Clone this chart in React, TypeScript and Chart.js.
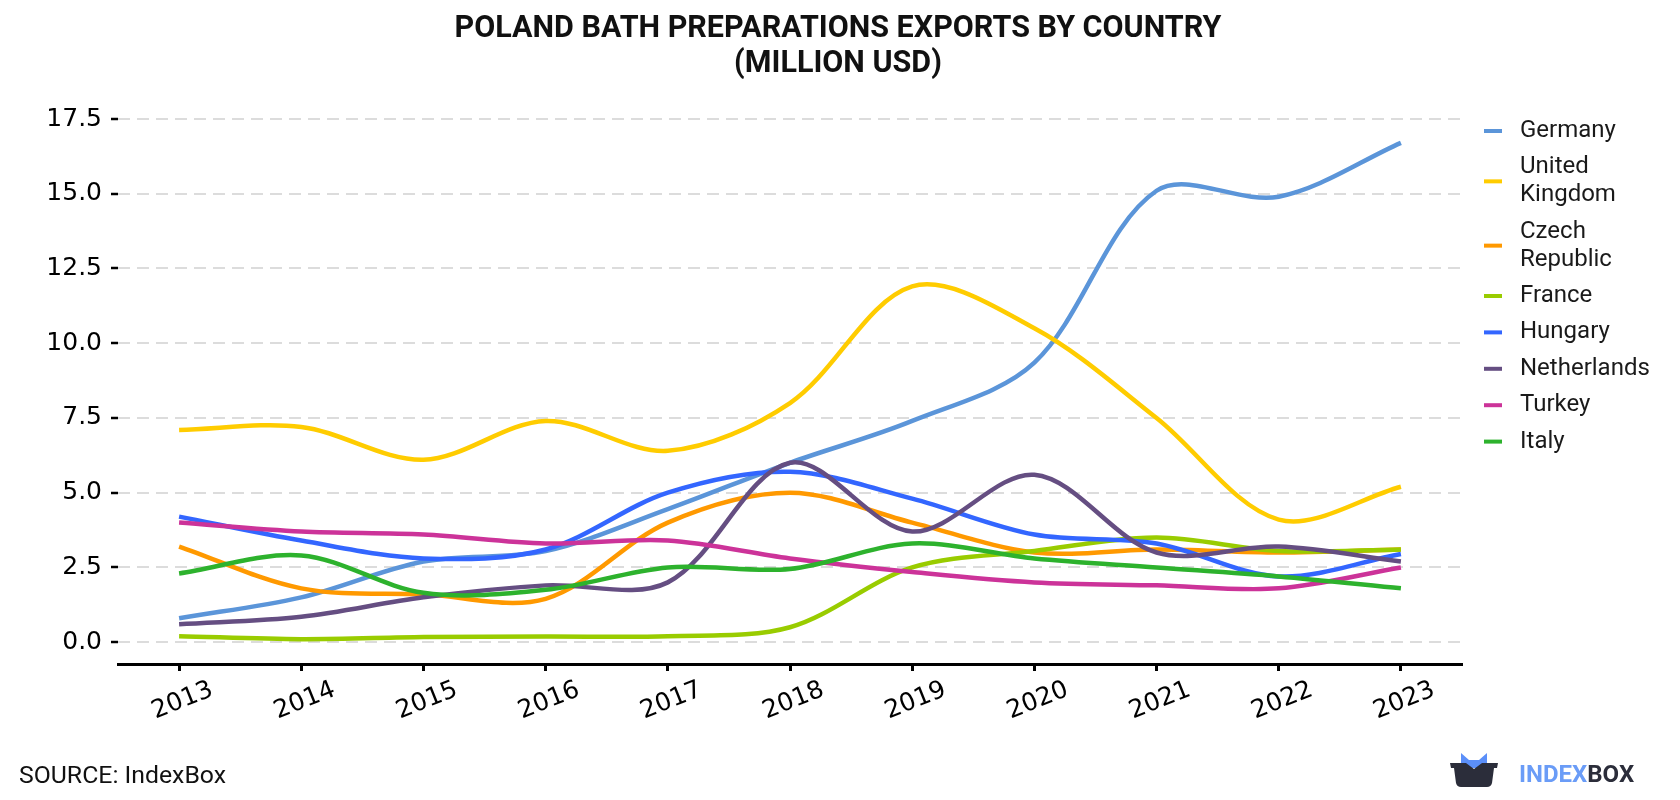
import React, { useEffect, useRef } from "react";
import { Chart, registerables } from "chart.js";

Chart.register(...registerables);

const years = ["2013", "2014", "2015", "2016", "2017", "2018", "2019", "2020", "2021", "2022", "2023"];

const germany = [0.8, 1.5, 2.7, 3.05, 4.45, 6.0, 7.4, 9.35, 15.1, 14.9, 16.7];
const unitedKingdom = [7.1, 7.2, 6.1, 7.4, 6.4, 8.0, 11.9, 10.5, 7.5, 4.1, 5.2];
const czechRepublic = [3.2, 1.8, 1.6, 1.45, 4.0, 5.0, 4.0, 3.0, 3.1, 3.0, 3.1];
const france = [0.2, 0.1, 0.17, 0.19, 0.2, 0.5, 2.5, 3.05, 3.5, 3.05, 3.1];
const hungary = [4.2, 3.4, 2.8, 3.1, 5.0, 5.7, 4.8, 3.6, 3.3, 2.2, 2.95];
const netherlands = [0.6, 0.85, 1.5, 1.9, 2.0, 6.0, 3.7, 5.6, 3.0, 3.2, 2.7];
const turkey = [4.0, 3.7, 3.6, 3.3, 3.4, 2.8, 2.35, 2.0, 1.9, 1.8, 2.5];
const italy = [2.3, 2.9, 1.65, 1.75, 2.5, 2.45, 3.3, 2.8, 2.5, 2.2, 1.8];

const seriesNames = ["Germany", "United Kingdom", "Czech Republic", "France", "Hungary", "Netherlands", "Turkey", "Italy"];
const seriesValues = [germany, unitedKingdom, czechRepublic, france, hungary, netherlands, turkey, italy];
const seriesColors = ["#5b95d9", "#ffcc00", "#ff9900", "#99cc00", "#3366ff", "#654e82", "#cc3399", "#2db22d"];

const yTickValues = [0, 2.5, 5, 7.5, 10, 12.5, 15, 17.5];
const titleLines = ["POLAND BATH PREPARATIONS EXPORTS BY COUNTRY", "(MILLION USD)"];
const sourceText = "SOURCE: IndexBox";
const logoParts = ["INDEX", "BOX"];

function wrapLabel(s: string): string[] {
  return s.length > 12 ? s.split(" ") : [s];
}

const decorPlugin = {
  id: "decor",
  afterDraw(chart: any) {
    const ctx = chart.ctx as CanvasRenderingContext2D;
    ctx.save();
    // Title
    ctx.fillStyle = "#111";
    ctx.textAlign = "center";
    ctx.textBaseline = "middle";
    ctx.font = "bold 30.5px Roboto";
    ctx.fillText(titleLines[0], 838, 29);
    ctx.fillText(titleLines[1], 838, 64);

    // Legend
    const lh = 27.9;
    const gap = 8.5;
    let top = 131 - lh / 2;
    ctx.font = "24px Roboto";
    ctx.textAlign = "left";
    chart.data.datasets.forEach((ds: any) => {
      const lines = wrapLabel(ds.label);
      const h = lines.length * lh;
      const cy = top + h / 2;
      ctx.strokeStyle = ds.borderColor;
      ctx.lineWidth = 4;
      ctx.beginPath();
      ctx.moveTo(1484, cy);
      ctx.lineTo(1502, cy);
      ctx.stroke();
      ctx.fillStyle = "#1a1a1a";
      lines.forEach((ln, k) => {
        ctx.fillText(ln, 1520, top + lh * k + lh / 2);
      });
      top += h + gap;
    });

    // Source
    ctx.fillStyle = "#111";
    ctx.font = "24.8px Roboto";
    ctx.textAlign = "left";
    ctx.fillText(sourceText, 19, 777);

    // Logo icon
    ctx.fillStyle = "#5b8ff9";
    ctx.beginPath();
    ctx.moveTo(1461, 768);
    ctx.lineTo(1461, 753);
    ctx.lineTo(1469, 760);
    ctx.lineTo(1479, 760);
    ctx.lineTo(1487, 753);
    ctx.lineTo(1487, 768);
    ctx.closePath();
    ctx.fill();
    ctx.fillStyle = "#2b2d3a";
    ctx.beginPath();
    ctx.moveTo(1450, 763);
    ctx.lineTo(1466, 763);
    ctx.lineTo(1474, 769);
    ctx.lineTo(1482, 763);
    ctx.lineTo(1498, 763);
    ctx.lineTo(1497, 768);
    ctx.lineTo(1494, 768);
    ctx.lineTo(1492, 783);
    ctx.quadraticCurveTo(1491, 787, 1487, 787);
    ctx.lineTo(1461, 787);
    ctx.quadraticCurveTo(1457, 787, 1456, 783);
    ctx.lineTo(1454, 768);
    ctx.lineTo(1451, 768);
    ctx.closePath();
    ctx.fill();

    ctx.font = "bold 24px Roboto";
    ctx.textAlign = "left";
    ctx.fillStyle = "#6a9cf7";
    ctx.fillText(logoParts[0], 1519, 776);
    const w = ctx.measureText(logoParts[0]).width;
    ctx.fillStyle = "#2b2d3a";
    ctx.fillText(logoParts[1], 1519 + w, 776);
    ctx.restore();
  },
};

export default function App() {
  const ref = useRef<HTMLCanvasElement | null>(null);
  useEffect(() => {
    document.body.style.margin = "0";
    const canvas = ref.current;
    if (!canvas) return;
    const n = seriesNames.length;
    const chart = new Chart(canvas, {
      type: "line",
      data: {
        labels: years,
        datasets: seriesNames.map((name, i) => ({
          label: name,
          data: seriesValues[i],
          borderColor: seriesColors[i],
          backgroundColor: seriesColors[i],
          borderWidth: 4.5,
          pointRadius: 0,
          tension: 0.33,
          fill: false,
          order: n - i,
        })),
      },
      options: {
        responsive: false,
        animation: false,
        devicePixelRatio: 1,
        events: [],
        layout: { padding: { left: 0, right: 218, top: 119, bottom: 0 } },
        plugins: {
          legend: { display: false },
          title: { display: false },
          tooltip: { enabled: false },
        },
        scales: {
          x: {
            type: "category",
            offset: true,
            afterFit: (s: any) => {
              s.height = 136;
            },
            grid: {
              display: true,
              drawOnChartArea: false,
              drawTicks: true,
              tickLength: 7,
              tickColor: "#000",
              tickWidth: 3,
            },
            border: { display: true, color: "#000", width: 3 },
            ticks: {
              color: "#000",
              font: { family: "DejaVu Sans", size: 25 },
              minRotation: 22,
              maxRotation: 22,
              autoSkip: false,
              padding: 4,
              labelOffset: 33,
            },
          },
          y: {
            min: -0.73,
            max: 17.5,
            afterFit: (s: any) => {
              s.width = 118;
            },
            afterBuildTicks: (axis: any) => {
              axis.ticks = yTickValues.map((v) => ({ value: v }));
            },
            grid: {
              color: "#dcdcdc",
              lineWidth: 2,
              drawTicks: true,
              tickLength: 7,
              tickColor: "#000",
              tickWidth: 2.5,
              tickBorderDash: [],
              borderDash: [12, 7],
            } as any,
            border: { display: false, dash: [12, 7] },
            ticks: {
              color: "#000",
              font: { family: "DejaVu Sans", size: 25 },
              padding: 9,
              callback: (v: any) => Number(v).toFixed(1),
            },
          },
        },
      },
      plugins: [decorPlugin],
    });
    return () => chart.destroy();
  }, []);
  return (
    <div style={{ width: 1680, height: 800 }}>
      <canvas ref={ref} width={1680} height={800} style={{ display: "block" }} />
    </div>
  );
}
